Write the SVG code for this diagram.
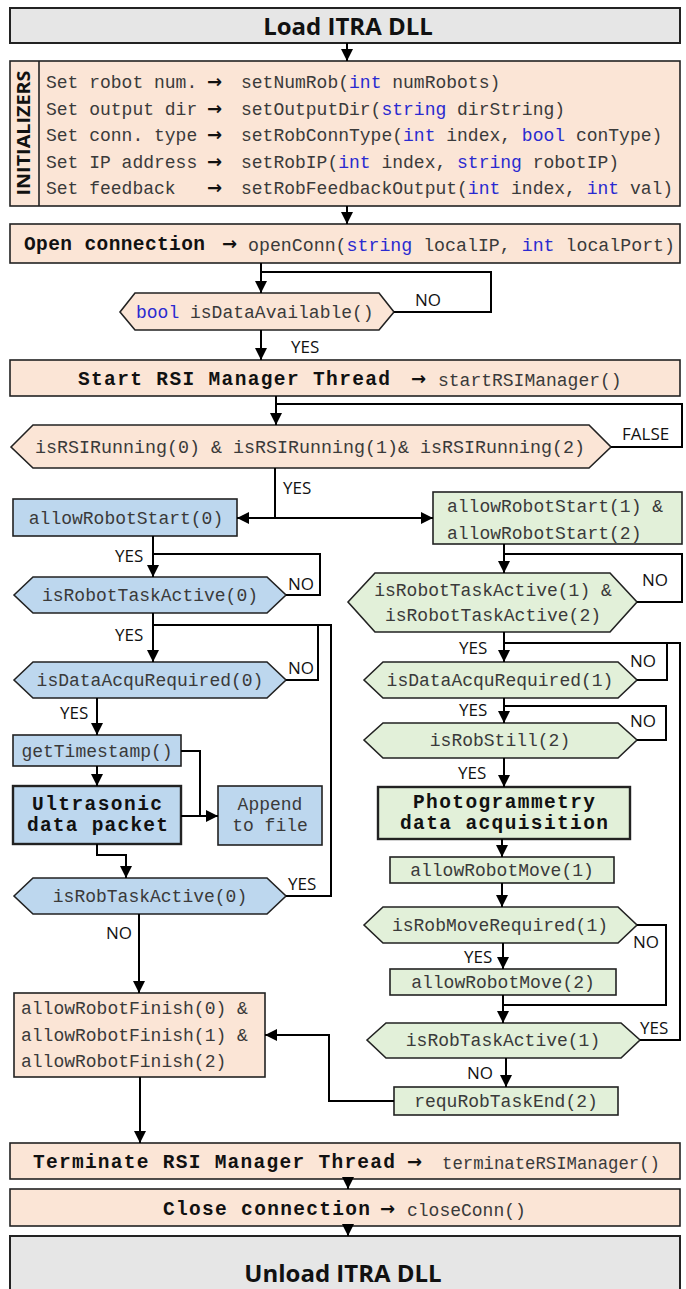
<svg xmlns="http://www.w3.org/2000/svg" width="686" height="1289" viewBox="0 0 686 1289">
<defs>
<marker id="ah" markerUnits="userSpaceOnUse" markerWidth="12" markerHeight="12" refX="12" refY="6" orient="auto">
<path d="M0,0 L12,6 L0,12 z" fill="#000"/>
</marker>
<style>
.gray{fill:#e6e6e6;stroke:#222;stroke-width:2}
.peach{fill:#fbe5d6;stroke:#222;stroke-width:1.6}
.blue{fill:#bdd7ee;stroke:#222;stroke-width:1.6}
.green{fill:#e2f0d9;stroke:#222;stroke-width:1.6}
.thick{stroke-width:2.4}
.mono{font-family:"Liberation Mono","DejaVu Sans Mono",monospace;font-size:18px;fill:#3a3a3a;white-space:pre}
.bmono{font-family:"Liberation Mono","DejaVu Sans Mono",monospace;font-size:19.5px;font-weight:bold;fill:#111;white-space:pre}
.kw{fill:#2a2ad0}
.arr{font-family:"DejaVu Sans",sans-serif;font-size:18px;font-weight:bold;fill:#111}
.lbl{font-family:"Open Sans","Noto Sans",sans-serif;font-size:17px;fill:#111}
.title{font-family:"Open Sans","Noto Sans",sans-serif;font-size:24px;font-weight:bold;fill:#111}
.mid{text-anchor:middle}
.conn path{fill:none;stroke:#000;stroke-width:2}
</style>
</defs>

<g id="load"><rect class="gray" x="10" y="8" width="670" height="35"/><text class="title mid" x="348" y="35">Load ITRA DLL</text></g>

<g id="initializers">
<rect class="peach" x="10" y="61" width="670" height="145"/>
<line x1="39" y1="61" x2="39" y2="206" stroke="#222" stroke-width="1.6"/>
<text class="lbl" font-weight="bold" font-size="17" text-anchor="middle" textLength="125" lengthAdjust="spacingAndGlyphs" transform="translate(30,133) rotate(-90)">INITIALIZERS</text>
<text class="mono" y="88"><tspan x="46">Set robot num.</tspan><tspan class="arr" x="207">→</tspan><tspan x="241">setNumRob(<tspan class="kw">int</tspan> numRobots)</tspan></text>
<text class="mono" y="114.5"><tspan x="46">Set output dir</tspan><tspan class="arr" x="207">→</tspan><tspan x="241">setOutputDir(<tspan class="kw">string</tspan> dirString)</tspan></text>
<text class="mono" y="141"><tspan x="46">Set conn. type</tspan><tspan class="arr" x="207">→</tspan><tspan x="241">setRobConnType(<tspan class="kw">int</tspan> index, <tspan class="kw">bool</tspan> conType)</tspan></text>
<text class="mono" y="167.5"><tspan x="46">Set IP address</tspan><tspan class="arr" x="207">→</tspan><tspan x="241">setRobIP(<tspan class="kw">int</tspan> index, <tspan class="kw">string</tspan> robotIP)</tspan></text>
<text class="mono" y="194"><tspan x="46">Set feedback</tspan><tspan class="arr" x="207">→</tspan><tspan x="241">setRobFeedbackOutput(<tspan class="kw">int</tspan> index, <tspan class="kw">int</tspan> val)</tspan></text>
</g>

<g id="openConn">
<rect class="peach" x="10" y="224" width="670" height="39"/>
<text class="bmono" x="24" y="250" textLength="181">Open connection</text>
<text class="arr" x="222" y="250">→</text>
<text class="mono" x="248" y="251" textLength="427" lengthAdjust="spacingAndGlyphs">openConn(<tspan class="kw">string</tspan> localIP, <tspan class="kw">int</tspan> localPort)</text>
</g>

<g id="isDataAvailable">
<path class="peach" d="M120,312 L135,293 L379,293 L394,312 L379,330 L135,330 Z"/>
<text class="mono" x="136" y="318"><tspan class="kw">bool</tspan> isDataAvailable()</text>
</g>

<g id="startRSI">
<rect class="peach" x="10" y="360" width="670" height="36"/>
<text class="bmono" x="78" y="385" textLength="312">Start RSI Manager Thread</text>
<text class="arr" x="411" y="385">→</text>
<text class="mono" x="438" y="386">startRSIManager()</text>
</g>

<g id="isRSIRunning">
<path class="peach" d="M11,447 L33,425 L589,425 L611,447 L589,468 L33,468 Z"/>
<text class="mono" x="35" y="453" textLength="550" lengthAdjust="spacingAndGlyphs">isRSIRunning(0) &amp; isRSIRunning(1)&amp; isRSIRunning(2)</text>
</g>

<g id="allowRobotStart0">
<rect class="blue" x="13" y="499" width="224" height="37"/>
<text class="mono mid" x="126" y="524">allowRobotStart(0)</text>
</g>

<g id="isRobotTaskActive0">
<path class="blue" d="M14,595 L33,577 L267,577 L286,595 L267,613 L33,613 Z"/>
<text class="mono mid" x="150" y="601">isRobotTaskActive(0)</text>
</g>

<g id="isDataAcquRequired0">
<path class="blue" d="M14,680 L33,662 L267,662 L286,680 L267,698 L33,698 Z"/>
<text class="mono mid" x="150" y="686">isDataAcquRequired(0)</text>
</g>

<g id="getTimestamp">
<rect class="blue" x="13" y="735" width="168" height="31"/>
<text class="mono mid" x="97" y="757">getTimestamp()</text>
</g>

<g id="ultrasonic">
<rect class="blue thick" x="13" y="786" width="168" height="58"/>
<text class="bmono" x="32" y="810" textLength="130">Ultrasonic</text>
<text class="bmono" x="27" y="831" textLength="141">data packet</text>
</g>

<g id="appendFile">
<rect class="blue" x="218" y="786" width="104" height="59"/>
<text class="mono mid" font-size="20" x="270" y="810" fill="#555">Append</text>
<text class="mono mid" font-size="20" x="270" y="831" fill="#555">to file</text>
</g>

<g id="isRobTaskActive0">
<path class="blue" d="M14,896 L33,878 L267,878 L286,896 L267,914 L33,914 Z"/>
<text class="mono mid" x="150" y="902">isRobTaskActive(0)</text>
</g>

<g id="allowRobotFinish">
<rect class="peach" x="14" y="993" width="251" height="84"/>
<text class="mono" x="21" y="1014">allowRobotFinish(0) &amp;</text>
<text class="mono" x="21" y="1041">allowRobotFinish(1) &amp;</text>
<text class="mono" x="21" y="1067">allowRobotFinish(2)</text>
</g>

<g id="allowRobotStart12">
<rect class="green" x="433" y="492" width="249" height="52"/>
<text class="mono" x="447" y="512">allowRobotStart(1) &amp;</text>
<text class="mono" x="447" y="539">allowRobotStart(2)</text>
</g>

<g id="isRobotTaskActive12">
<path class="green" d="M348,602 L375,573 L610,573 L637,602 L610,632 L375,632 Z"/>
<text class="mono mid" x="493" y="596">isRobotTaskActive(1) &amp;</text>
<text class="mono mid" x="493" y="621">isRobotTaskActive(2)</text>
</g>

<g id="isDataAcquRequired1">
<path class="green" d="M364,680 L383,662 L618,662 L637,680 L618,698 L383,698 Z"/>
<text class="mono mid" x="500" y="686">isDataAcquRequired(1)</text>
</g>

<g id="isRobStill2">
<path class="green" d="M364,740 L383,723 L618,723 L637,740 L618,758 L383,758 Z"/>
<text class="mono mid" x="500" y="746">isRobStill(2)</text>
</g>

<g id="photogrammetry">
<rect class="green thick" x="378" y="787" width="252" height="52"/>
<text class="bmono" x="413" y="808" textLength="182">Photogrammetry</text>
<text class="bmono" x="400" y="829" textLength="208">data acquisition</text>
</g>

<g id="allowRobotMove1">
<rect class="green" x="390" y="857" width="224" height="26"/>
<text class="mono mid" x="502" y="876">allowRobotMove(1)</text>
</g>

<g id="isRobMoveRequired1">
<path class="green" d="M364,925 L383,907 L618,907 L637,925 L618,943 L383,943 Z"/>
<text class="mono mid" x="500" y="931">isRobMoveRequired(1)</text>
</g>

<g id="allowRobotMove2">
<rect class="green" x="390" y="969" width="226" height="26"/>
<text class="mono mid" x="503" y="988">allowRobotMove(2)</text>
</g>

<g id="isRobTaskActive1">
<path class="green" d="M367,1040 L386,1023 L621,1023 L640,1040 L621,1058 L386,1058 Z"/>
<text class="mono mid" x="503" y="1046">isRobTaskActive(1)</text>
</g>

<g id="requRobTaskEnd2">
<rect class="green" x="394" y="1087" width="224" height="28"/>
<text class="mono mid" x="506" y="1107">requRobTaskEnd(2)</text>
</g>

<g id="terminate">
<rect class="peach" x="10" y="1143" width="670" height="36"/>
<text class="bmono" x="33" y="1168" textLength="362">Terminate RSI Manager Thread</text>
<text class="arr" x="407" y="1168">→</text>
<text class="mono" x="442" y="1169" textLength="218" lengthAdjust="spacingAndGlyphs">terminateRSIManager()</text>
</g>

<g id="close">
<rect class="peach" x="10" y="1189" width="670" height="37"/>
<text class="bmono" x="163" y="1215" textLength="207">Close connection</text>
<text class="arr" x="380" y="1215">→</text>
<text class="mono" x="407" y="1216">closeConn()</text>
</g>

<g id="unload"><rect class="gray" x="10" y="1236" width="670" height="60"/><text class="title mid" x="343" y="1282">Unload ITRA DLL</text></g>

<g id="connectors" class="conn">
<path d="M347,43 V61" marker-end="url(#ah)"/>
<path d="M347,206 V224" marker-end="url(#ah)"/>
<path d="M261,263 V293" marker-end="url(#ah)"/>
<path d="M394,312 H491 V272 H261"/>
<path d="M261,330 V360" marker-end="url(#ah)"/>
<path d="M276,396 V425" marker-end="url(#ah)"/>
<path d="M611,447 H682 V404 H276"/>
<path d="M275,468 V518"/>
<path d="M275,518 H237" marker-end="url(#ah)"/>
<path d="M275,518 H433" marker-end="url(#ah)"/>
<path d="M153,536 V577" marker-end="url(#ah)"/>
<path d="M286,595 H320 V554 H153"/>
<path d="M153,613 V662" marker-end="url(#ah)"/>
<path d="M286,680 H318 V625 H153"/>
<path d="M286,896 H331 V625 H318"/>
<path d="M97,698 V735" marker-end="url(#ah)"/>
<path d="M97,766 V786" marker-end="url(#ah)"/>
<path d="M181,751 H200 V816"/>
<path d="M181,816 H218" marker-end="url(#ah)"/>
<path d="M97,844 V855 H126 V878" marker-end="url(#ah)"/>
<path d="M139,914 V993" marker-end="url(#ah)"/>
<path d="M140,1077 V1143" marker-end="url(#ah)"/>
<path d="M394,1101 H329 V1035 H265" marker-end="url(#ah)"/>
<path d="M348,1179 V1189" marker-end="url(#ah)"/>
<path d="M348,1226 V1236" marker-end="url(#ah)"/>
<path d="M504,544 V573" marker-end="url(#ah)"/>
<path d="M637,602 H682 V554 H504"/>
<path d="M504,632 V662" marker-end="url(#ah)"/>
<path d="M637,680 H667 V643 H504"/>
<path d="M504,698 V723" marker-end="url(#ah)"/>
<path d="M637,740 H666 V706 H504"/>
<path d="M504,758 V787" marker-end="url(#ah)"/>
<path d="M502,839 V857" marker-end="url(#ah)"/>
<path d="M502,883 V907" marker-end="url(#ah)"/>
<path d="M503,943 V969" marker-end="url(#ah)"/>
<path d="M637,925 H666 V1005 H503"/>
<path d="M503,995 V1023" marker-end="url(#ah)"/>
<path d="M640,1040 H680 V643 H667"/>
<path d="M506,1058 V1087" marker-end="url(#ah)"/>
</g>

<g id="labels">
<text class="lbl" x="415" y="306">NO</text>
<text class="lbl" x="291" y="353">YES</text>
<text class="lbl" x="622" y="440">FALSE</text>
<text class="lbl" x="283" y="494">YES</text>
<text class="lbl" x="115" y="562">YES</text>
<text class="lbl" x="288" y="590">NO</text>
<text class="lbl" x="115" y="641">YES</text>
<text class="lbl" x="288" y="674">NO</text>
<text class="lbl" x="60" y="719">YES</text>
<text class="lbl" x="288" y="890">YES</text>
<text class="lbl" x="106" y="939">NO</text>
<text class="lbl" x="642" y="586">NO</text>
<text class="lbl" x="459" y="654">YES</text>
<text class="lbl" x="630" y="667">NO</text>
<text class="lbl" x="459" y="716">YES</text>
<text class="lbl" x="630" y="727">NO</text>
<text class="lbl" x="458" y="779">YES</text>
<text class="lbl" x="464" y="963">YES</text>
<text class="lbl" x="633" y="948">NO</text>
<text class="lbl" x="640" y="1034">YES</text>
<text class="lbl" x="467" y="1079">NO</text>
</g>
</svg>
